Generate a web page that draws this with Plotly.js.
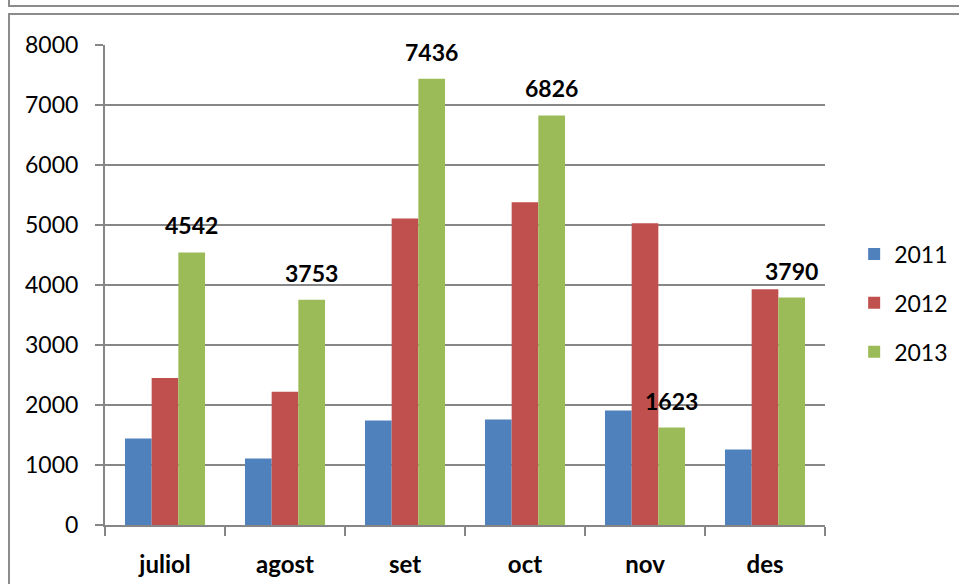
<!DOCTYPE html>
<html>
<head>
<meta charset="utf-8">
<script src="https://cdn.plot.ly/plotly-3.0.1.min.js"></script>
<style>
  html, body { margin: 0; padding: 0; background: #fff; }
  #wrap { position: relative; width: 959px; height: 584px; overflow: hidden; }
  #boxTop { position: absolute; left: 8px; top: -20px; width: 1000px; height: 23px; border: 2px solid #8c8c8c; }
  #boxMain { position: absolute; left: 8px; top: 13px; width: 1000px; height: 700px; border: 2px solid #8c8c8c; }
  #chart { position: absolute; left: 0; top: 0; width: 959px; height: 584px; }
</style>
</head>
<body>
<div id="wrap">
  <div id="boxTop"></div>
  <div id="boxMain"></div>
  <div id="chart"></div>
</div>
<script>
const months = ['juliol', 'agost', 'set', 'oct', 'nov', 'des'];
const years = ['2011', '2012', '2013'];
const v2011 = [1440, 1110, 1740, 1760, 1910, 1260];
const v2012 = [2450, 2220, 5110, 5380, 5030, 3930];
const v2013 = [4542, 3753, 7436, 6826, 1623, 3790];
const colors = ['#4f81bd', '#c0504d', '#9bbb59'];
const yTicks = [0, 1000, 2000, 3000, 4000, 5000, 6000, 7000, 8000];

const FONT = 'Lato, "Open Sans", sans-serif';
const series = [v2011, v2012, v2013];
const traces = series.map((vals, i) => ({
  type: 'bar',
  name: years[i],
  legendgroup: 'g' + i,
  x: months,
  y: vals,
  marker: { color: colors[i], line: { width: 0 } },
  hoverinfo: 'x+y+name'
}));

const annotations = v2013.map((val, i) => ({
  x: months[i],
  y: val,
  xref: 'x',
  yref: 'y',
  text: '<b>' + val + '</b>',
  showarrow: false,
  xshift: 26.7,
  yshift: 27,
  yanchor: 'middle',
  font: { family: FONT, size: 23, color: '#000' }
}));

const layout = {
  width: 959,
  height: 584,
  paper_bgcolor: 'rgba(0,0,0,0)',
  plot_bgcolor: 'rgba(0,0,0,0)',
  margin: { l: 105, r: 134, t: 45, b: 59, pad: 0, autoexpand: false },
  barmode: 'group',
  bargap: 0.333,
  bargroupgap: 0,
  font: { family: FONT, size: 23, color: '#000' },
  xaxis: {
    type: 'category',
    tickfont: { family: FONT, size: 24, color: '#000', weight: 'bold' },
    showline: true,
    linecolor: '#868686',
    linewidth: 2,
    ticks: 'outside',
    tickson: 'boundaries',
    ticklen: 9,
    tickwidth: 2,
    tickcolor: '#868686',
    ticklabelstandoff: 17,
    showgrid: false,
    zeroline: false
  },
  yaxis: {
    range: [0, 8000],
    tickvals: yTicks,
    ticktext: yTicks.map(String),
    tickfont: { family: FONT, size: 23, color: '#000' },
    showline: true,
    linecolor: '#868686',
    linewidth: 2,
    ticks: 'outside',
    ticklen: 8,
    tickwidth: 2,
    tickcolor: '#868686',
    ticklabelstandoff: 12,
    showgrid: true,
    gridcolor: '#868686',
    gridwidth: 2,
    zeroline: false
  },
  legend: {
    x: 1.0405,
    xanchor: 'left',
    xref: 'paper',
    y: 0.4625,
    yanchor: 'middle',
    font: { family: FONT, size: 23, color: '#000' },
    tracegroupgap: 16,
    itemwidth: 30,
    bgcolor: 'rgba(0,0,0,0)'
  },
  annotations: annotations,
  showlegend: true
};

Plotly.newPlot('chart', traces, layout, { displayModeBar: false, staticPlot: true });
</script>
</body>
</html>
